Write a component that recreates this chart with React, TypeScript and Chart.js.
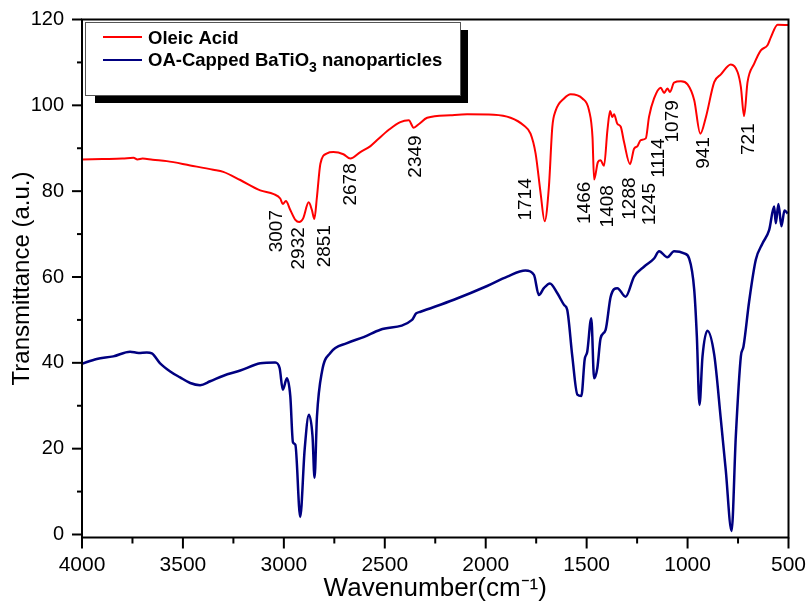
import React, { useEffect, useRef } from 'react';
import { Chart, registerables } from 'chart.js';

Chart.register(...registerables);

const FONT = '"Liberation Sans", Arial, sans-serif';

// Oleic acid (red) spectrum
const oleicWavenumber = [
  4000, 3900, 3800, 3745, 3725, 3700, 3650, 3580, 3464, 3350, 3300, 3216, 3117, 3050, 3018, 3005, 2990, 2968,
  2943, 2924, 2905, 2877, 2861, 2849, 2836, 2819, 2786, 2755, 2705, 2671, 2621, 2571, 2538, 2480, 2423, 2381,
  2357, 2332, 2290, 2175, 2092, 1960, 1877, 1811, 1778, 1753, 1728, 1708, 1687, 1670, 1654, 1612, 1579, 1521,
  1488, 1471, 1463, 1444, 1431, 1414, 1397, 1384, 1373, 1364, 1348, 1331, 1315, 1285, 1265, 1248, 1232, 1207,
  1191, 1166, 1133, 1116, 1100, 1087, 1067, 1033, 1000, 967, 937, 909, 868, 835, 786, 752, 736, 720, 703, 670,
  637, 604, 587, 554, 500,
];
const oleicTransmittance = [
  87.4, 87.5, 87.6, 87.8, 87.4, 87.6, 87.3, 87.0, 86.0, 85.0, 84.5, 82.6, 80.2, 79.3, 78.3, 77.0, 77.7, 75.6,
  73.3, 72.8, 73.6, 77.4, 75.6, 73.5, 78.7, 86.4, 88.8, 89.1, 88.6, 87.6, 89.1, 90.5, 91.9, 94.3, 96.1, 96.5,
  94.8, 95.6, 97.1, 97.7, 97.9, 97.8, 97.1, 95.3, 93.4, 88.8, 79.5, 73.0, 81.0, 95.0, 98.7, 101.6, 102.6, 101.6,
  98.8, 92.6, 82.7, 86.8, 87.2, 85.9, 94.2, 98.7, 97.3, 97.9, 95.7, 95.0, 91.5, 86.3, 89.9, 90.5, 91.9, 92.3,
  97.3, 101.6, 104.1, 102.9, 103.9, 103.1, 105.3, 105.6, 104.9, 101.2, 93.4, 97.3, 105.4, 107.2, 109.5, 107.7, 104.3, 97.5, 105.4, 109.7,
  112.8, 114.0, 115.9, 118.8, 118.7,
];

// OA-capped BaTiO3 (navy) spectrum
const batioWavenumber = [
  4000, 3927, 3845, 3762, 3720, 3679, 3654, 3613, 3563, 3514, 3464, 3415, 3365, 3299, 3216, 3117, 3043, 3021,
  3005, 2985, 2968, 2955, 2943, 2919, 2897, 2876, 2858, 2848, 2836, 2811, 2770, 2687, 2605, 2522, 2365, 2345,
  2323, 2158, 1993, 1893, 1803, 1761, 1737, 1712, 1682, 1645, 1612, 1596, 1571, 1546, 1526, 1510, 1497, 1477,
  1463, 1447, 1431, 1406, 1381, 1348, 1307, 1265, 1216, 1166, 1141, 1100, 1067, 1017, 992, 967, 954, 941, 926,
  902, 868, 835, 811, 782, 761, 736, 723, 695, 662, 629, 596, 571, 563, 550, 535, 520, 504,
];
const batioTransmittance = [
  39.8, 40.9, 41.5, 42.6, 42.3, 42.4, 42.2, 39.9, 38.0, 36.6, 35.3, 34.8, 35.7, 37.0, 38.2, 39.9, 40.1, 38.8,
  33.7, 36.4, 32.2, 21.5, 20.9, 4.1, 19.8, 27.9, 22.9, 13.2, 27.5, 38.0, 42.3, 44.6, 46.0, 47.7, 50.0, 51.5,
  51.9, 54.7, 57.9, 60.1, 61.5, 60.5, 55.8, 57.4, 58.5, 56.2, 53.5, 52.3, 41.5, 32.6, 32.3, 40.7, 42.6, 50.4,
  36.4, 38.8, 45.7, 47.7, 55.4, 57.4, 55.4, 60.1, 62.4, 64.3, 66.0, 64.6, 66.0, 65.5, 64.3, 57.0, 46.1, 30.2, 41.5,
  47.5, 41.9, 26.7, 15.1, 0.8, 22.9, 41.5, 43.8, 54.3, 64.0, 67.8, 70.9, 76.4, 72.5, 77.0, 71.8, 75.5, 74.8,
];

const xTickValues = [4000, 3500, 3000, 2500, 2000, 1500, 1000, 500];
const yTickValues = [0, 20, 40, 60, 80, 100, 120];

// Peak annotations on the oleic acid curve
const peakLabels = ['3007', '2932', '2851', '2678', '2349', '1714', '1466', '1408', '1288', '1245', '1114', '1079', '941', '721'];
const peakLabelWavenumber = [3033, 2924, 2795, 2671, 2348, 1803, 1507, 1397, 1288, 1188, 1145, 1075, 918, 695];
const peakLabelTop = [75.6, 71.6, 72.1, 86.5, 93.0, 83.0, 82.2, 81.4, 83.2, 81.9, 92.3, 101.2, 92.6, 95.8];

const seriesNames = ['Oleic Acid', 'OA-Capped BaTiO', '3', ' nanoparticles'];
const seriesColors = ['#ff0000', '#000080'];

const decorPlugin = {
  id: 'decor',
  afterDraw(chart: any) {
    const { ctx, chartArea: a, scales } = chart;
    const x = scales.x;
    const y = scales.y;
    ctx.save();
    // frame
    ctx.strokeStyle = '#000';
    ctx.lineWidth = 2;
    ctx.strokeRect(a.left, a.top, a.right - a.left, a.bottom - a.top);
    // x ticks
    for (let v = 500; v <= 4000; v += 250) {
      const px = x.getPixelForValue(v);
      const len = xTickValues.includes(v) ? 11 : 6;
      ctx.beginPath();
      ctx.moveTo(px, a.bottom);
      ctx.lineTo(px, a.bottom + len);
      ctx.stroke();
    }
    // y ticks
    for (let v = 0; v <= 120; v += 10) {
      const py = y.getPixelForValue(v);
      const len = yTickValues.includes(v) ? 10 : 5;
      ctx.beginPath();
      ctx.moveTo(a.left, py);
      ctx.lineTo(a.left - len, py);
      ctx.stroke();
    }
    // peak labels
    ctx.fillStyle = '#000';
    ctx.font = `19px ${FONT}`;
    ctx.textAlign = 'right';
    ctx.textBaseline = 'middle';
    peakLabels.forEach((t, i) => {
      const px = x.getPixelForValue(peakLabelWavenumber[i]);
      const py = y.getPixelForValue(peakLabelTop[i]);
      ctx.save();
      ctx.translate(px, py);
      ctx.rotate(-Math.PI / 2);
      ctx.fillText(t, 0, 0);
      ctx.restore();
    });
    // legend
    const bx = 85, by = 22, bw = 375, bh = 73;
    ctx.fillStyle = '#000';
    ctx.fillRect(bx + 10, by + 8, bw - 2, bh);
    ctx.fillStyle = '#fff';
    ctx.fillRect(bx, by, bw, bh);
    ctx.strokeStyle = '#555';
    ctx.lineWidth = 1;
    ctx.strokeRect(bx + 0.5, by + 0.5, bw, bh);
    const rows = [37, 60];
    ctx.lineWidth = 2;
    rows.forEach((ry, i) => {
      ctx.strokeStyle = seriesColors[i];
      ctx.beginPath();
      ctx.moveTo(103, ry);
      ctx.lineTo(142, ry);
      ctx.stroke();
    });
    ctx.fillStyle = '#000';
    ctx.textAlign = 'left';
    ctx.textBaseline = 'alphabetic';
    ctx.font = `bold 18.5px ${FONT}`;
    ctx.fillText(seriesNames[0], 148, 43.5);
    let tx = 148;
    ctx.fillText(seriesNames[1], tx, 66);
    tx += ctx.measureText(seriesNames[1]).width;
    ctx.font = `bold 14px ${FONT}`;
    ctx.fillText(seriesNames[2], tx, 72);
    tx += ctx.measureText(seriesNames[2]).width;
    ctx.font = `bold 18.5px ${FONT}`;
    ctx.fillText(seriesNames[3], tx, 66);
    ctx.restore();
  },
};

export default function App() {
  const ref = useRef<HTMLCanvasElement | null>(null);
  useEffect(() => {
    document.body.style.margin = '0';
    const canvas = ref.current;
    if (!canvas) return;
    const chart = new Chart(canvas, {
      type: 'line',
      data: {
        datasets: [
          {
            label: 'Oleic Acid',
            data: oleicWavenumber.map((w, i) => ({ x: w, y: oleicTransmittance[i] })),
            borderColor: seriesColors[0],
            borderWidth: 2,
            pointRadius: 0,
            fill: false,
            cubicInterpolationMode: 'monotone',
          },
          {
            label: 'OA-Capped BaTiO3 nanoparticles',
            data: batioWavenumber.map((w, i) => ({ x: w, y: batioTransmittance[i] })),
            borderColor: seriesColors[1],
            borderWidth: 2.5,
            pointRadius: 0,
            fill: false,
            cubicInterpolationMode: 'monotone',
          },
        ],
      },
      options: {
        animation: false,
        responsive: false,
        maintainAspectRatio: false,
        layout: { padding: { top: 19.5, right: 17.5, bottom: 0, left: 0 } },
        plugins: { legend: { display: false }, tooltip: { enabled: false } },
        scales: {
          x: {
            type: 'linear',
            reverse: true,
            min: 500,
            max: 4000,
            afterBuildTicks: (s: any) => {
              s.ticks = xTickValues.map((v) => ({ value: v }));
            },
            afterFit: (s: any) => {
              s.height = 66.5;
              s.paddingLeft = 0;
              s.paddingRight = 0;
            },
            grid: { display: false, drawTicks: false },
            border: { display: false },
            ticks: {
              autoSkip: false,
              maxRotation: 0,
              padding: 15,
              color: '#000',
              font: { family: FONT, size: 21 },
              callback: (v: any) => String(v),
            },
            title: {
              display: true,
              text: 'Wavenumber(cm⁻¹)',
              color: '#000',
              font: { family: FONT, size: 26 },
              padding: { top: 0, bottom: 0 },
            },
          },
          y: {
            type: 'linear',
            min: -0.7,
            max: 120,
            afterBuildTicks: (s: any) => {
              s.ticks = yTickValues.map((v) => ({ value: v }));
            },
            afterFit: (s: any) => {
              s.width = 82;
              s.paddingTop = 0;
              s.paddingBottom = 0;
            },
            grid: { display: false, drawTicks: false },
            border: { display: false },
            ticks: {
              autoSkip: false,
              padding: 18,
              color: '#000',
              font: { family: FONT, size: 20 },
              callback: (v: any) => String(v),
            },
            title: {
              display: true,
              text: 'Transmittance (a.u.)',
              color: '#000',
              font: { family: FONT, size: 24 },
              padding: { top: 8, bottom: 0 },
            },
          },
        },
      },
      plugins: [decorPlugin],
    });
    return () => chart.destroy();
  }, []);
  return (
    <canvas ref={ref} width={806} height={604} style={{ display: 'block', width: 806, height: 604 }} />
  );
}
